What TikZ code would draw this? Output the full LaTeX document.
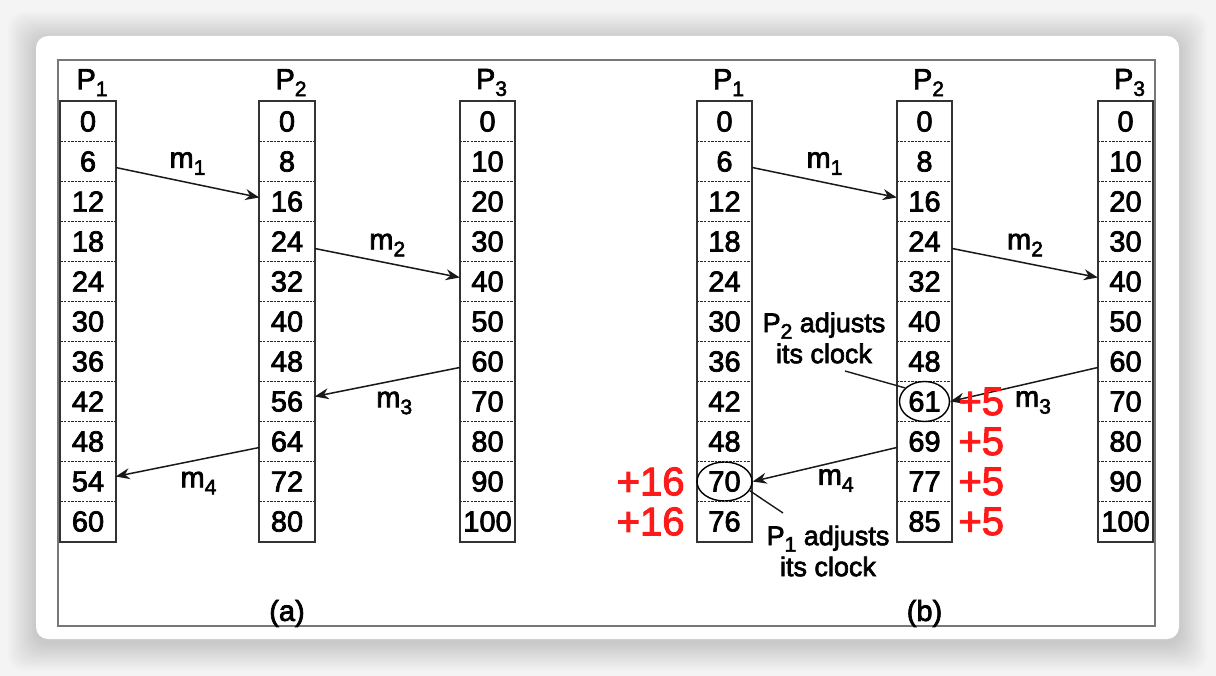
\documentclass[tikz,border=0pt]{standalone}
\usepackage{fontspec}
\setmainfont{Liberation Sans}[FakeBold=2.5]
\usepackage{xcolor}
\usepackage{tikz}
\usetikzlibrary{positioning,arrows.meta,shapes.geometric}

\definecolor{clockRed}{HTML}{FF1A1A}
\definecolor{frameGray}{HTML}{777777}
\definecolor{pageBg}{HTML}{F4F4F4}

\newcommand{\cellfont}{\fontsize{29}{30}\selectfont}
\newcommand{\notefont}{\fontsize{27}{31}\selectfont}
\newcommand{\deltafont}{\fontsize{40}{44}\selectfont}
\newcommand{\lowidx}[1]{\raisebox{-0.24em}{\fontsize{21}{21}\selectfont #1}}

\begin{document}
\begin{tikzpicture}[x=1pt, y=-1pt,
    cell/.style={minimum width=55pt, minimum height=40pt, inner sep=0pt,
                 font=\cellfont},
    colframe/.style={draw=black!80, line width=2pt},
    rowsep/.style={draw=black!85, line width=1.2pt,
                   dash pattern=on 2.4pt off 1.2pt},
    head/.style={inner sep=0pt, font=\cellfont},
    msg/.style={-{Stealth[length=14pt,width=11pt]}, line width=1.5pt,
                draw=black!90},
    mlabel/.style={inner sep=0pt, font=\cellfont},
    note/.style={inner sep=0pt, font=\notefont, align=center},
    delta/.style={inner sep=0pt, font=\deltafont, text=clockRed},
    ring/.style={draw, ellipse, line width=1.4pt, inner sep=0pt},
    pointer/.style={line width=1.4pt, draw=black!90},
  ]
  \useasboundingbox (0,0) rectangle (1216,676);
  % Fondo, ombra e scheda
  \fill[pageBg] (0,0) rectangle (1216,676);
  \foreach \k in {1,...,14}
    \fill[black, opacity=0.013, rounded corners=16pt]
      ({36-2*\k},{40-2*\k}) rectangle ({1179+2*\k},{643+2*\k});
  \fill[white, rounded corners=12pt] (36,36) rectangle (1179,639);
  \draw[frameGray, line width=2pt] (58,60) rectangle (1155,626);

  % Colonne dei clock
  \foreach \c/\x/\p/\vals in {
      aP1/88/1/{0,6,12,18,24,30,36,42,48,54,60},
      aP2/287/2/{0,8,16,24,32,40,48,56,64,72,80},
      aP3/487.5/3/{0,10,20,30,40,50,60,70,80,90,100},
      bP1/724.5/1/{0,6,12,18,24,30,36,42,48,70,76},
      bP2/924.5/2/{0,8,16,24,32,40,48,61,69,77,85},
      bP3/1125.5/3/{0,10,20,30,40,50,60,70,80,90,100}} {
    \foreach \v [count=\i] in \vals
      \node[cell] (\c-\i) at (\x,{81.5+40*\i}) {\v};
    \foreach \i in {1,...,10}
      \draw[rowsep] (\c-\i.south west) -- (\c-\i.south east);
    \draw[colframe] (\c-1.north west) rectangle (\c-11.south east);
    \node[head, above=5pt of \c-1, xshift=4pt] (\c-head) {P\lowidx{\p}};
  }

  % (a) messaggi
  \draw[msg] ([yshift=-6pt]aP1-2.east) -- ([yshift=4pt]aP2-3.west)
    node[mlabel, midway, yshift=19pt] (am1) {m\lowidx{1}};
  \draw[msg] ([yshift=-7pt]aP2-4.east) -- ([yshift=4pt]aP3-5.west)
    node[mlabel, midway, yshift=18pt] (am2) {m\lowidx{2}};
  \draw[msg] ([yshift=-6pt]aP3-7.west) -- ([yshift=5pt]aP2-8.east)
    node[mlabel, midway, xshift=7pt, yshift=-21pt] (am3) {m\lowidx{3}};
  \draw[msg] ([yshift=-6pt]aP2-9.west) -- ([yshift=5pt]aP1-10.east)
    node[mlabel, midway, xshift=11pt, yshift=-21pt] (am4) {m\lowidx{4}};
  \node[mlabel, below=58pt of aP2-11] (capA) {(a)};

  % (b) clock corretti
  \node[ring, minimum width=50pt, minimum height=40pt] (ring61) at (bP2-8) {};
  \node[ring, minimum width=55pt, minimum height=39pt] (ring70) at (bP1-10) {};
  \draw[msg] ([yshift=-6pt]bP1-2.east) -- ([yshift=4pt]bP2-3.west)
    node[mlabel, midway, yshift=19pt] (bm1) {m\lowidx{1}};
  \draw[msg] ([yshift=-7pt]bP2-4.east) -- ([yshift=4pt]bP3-5.west)
    node[mlabel, midway, yshift=18pt] (bm2) {m\lowidx{2}};
  \draw[msg] ([yshift=-6pt]bP3-7.west) -- (ring61.east)
    node[mlabel, midway, xshift=9pt, yshift=-18pt] (bm3) {m\lowidx{3}};
  \draw[msg] ([yshift=-6pt]bP2-9.west) -- (ring70.east)
    node[mlabel, midway, xshift=11pt, yshift=-16pt] (bm4) {m\lowidx{4}};

  \node[note] (adj2) at (824,338) {P\lowidx{2} adjusts\\its clock};
  \coordinate (tail2) at (845,371);
  \draw[pointer] (tail2) -- (ring61.145);
  \node[note] (adj1) at (828,551) {P\lowidx{1} adjusts\\its clock};
  \coordinate (tail1) at (783,513);
  \draw[pointer] (ring70.-20) -- (tail1);

  \foreach \i in {8,...,11}
    \node[delta, right=6pt of bP2-\i] (plus5-\i) {+5};
  \foreach \i in {10,11}
    \node[delta, left=12pt of bP1-\i] (plus16-\i) {+16};
  \node[mlabel, below=58pt of bP2-11] (capB) {(b)};
\end{tikzpicture}
\end{document}
